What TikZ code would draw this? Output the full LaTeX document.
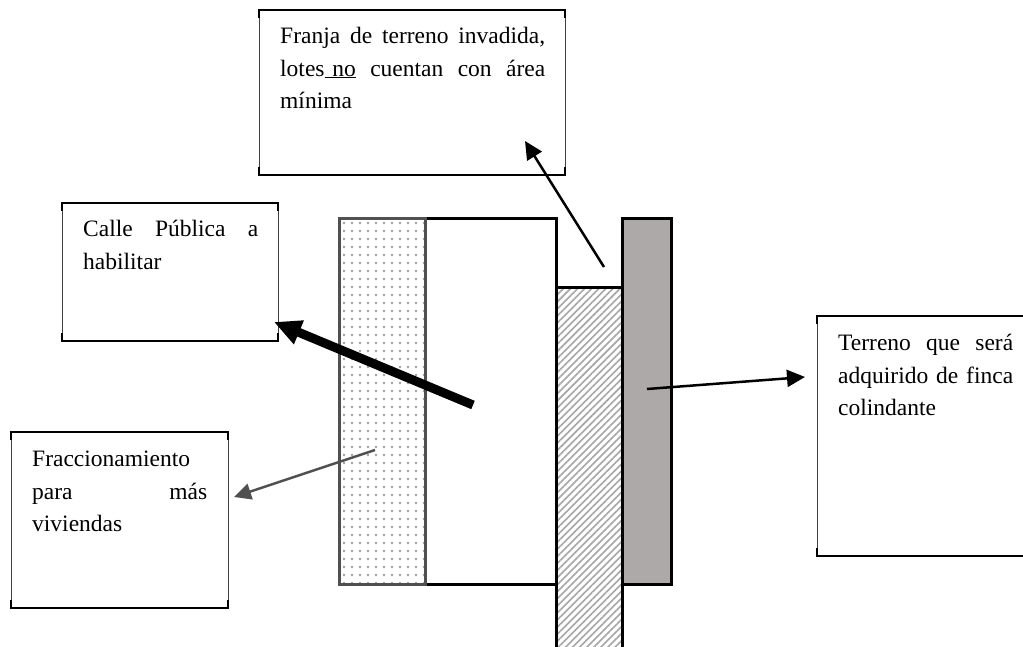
\documentclass[tikz,border=0pt]{standalone}
\usepackage{fontspec}
\setmainfont{Liberation Serif}
\usetikzlibrary{arrows.meta,patterns.meta}
\definecolor{dgray}{HTML}{ADA9A8}
\definecolor{sgray}{HTML}{505050}
\newcommand{\jl}[2]{\makebox[#1pt][s]{#2}}
\newcommand{\boxedge}[1]{%
  \draw[black,line width=1.8pt] ([yshift=-8pt]#1.north west) -- (#1.north west) -- (#1.north east) -- ([yshift=-8pt]#1.north east);
  \draw[black,line width=1.8pt] ([yshift=8pt]#1.south west) -- (#1.south west) -- (#1.south east) -- ([yshift=8pt]#1.south east);}
\tikzset{
  lbox/.style={draw=black!75,line width=1pt,fill=white,rectangle,anchor=north west,inner sep=0pt,outer sep=0pt},
  ltext/.style={anchor=north west,inner sep=0pt,align=left,font=\fontsize{23.5}{32.5}\selectfont,text=black},
  part/.style={draw=black,line width=3pt,rectangle,anchor=north west,inner sep=0pt,outer sep=0pt},
  arrowa/.style={draw=black,line width=2.5pt,-{Triangle[length=18pt,width=17pt]}},
}
\begin{document}
\begin{tikzpicture}[x=1pt,y=-1pt]
\useasboundingbox (0,0) rectangle (1023,647);
\fill[white] (0,0) rectangle (1023,647);
% boxes
\node[lbox,minimum width=306pt,minimum height=165pt] (franja) at (259,10) {};
\node[lbox,minimum width=216pt,minimum height=138pt] (calle) at (62,203) {};
\node[lbox,minimum width=217pt,minimum height=176pt] (fracc) at (11,432) {};
\node[lbox,minimum width=230pt,minimum height=240pt] (terr) at (817,316) {};
\boxedge{franja}\boxedge{calle}\boxedge{fracc}\boxedge{terr}
% box texts
\node[ltext,text width=265pt] (tfranja) at (280,27) {\jl{265}{Franja\hfill de\hfill terreno\hfill invadida,}\\\jl{265}{lotes\underline{\ no}\hfill cuentan\hfill con\hfill área}\\mínima};
\node[ltext,text width=175pt] (tcalle) at (83,220) {\jl{175}{Calle\hfill Pública\hfill a}\\habilitar};
\node[ltext,text width=175pt] (tfracc) at (32,451) {Fraccionamiento\\\jl{175}{para\hfill más}\\viviendas};
\node[ltext,text width=175pt] (tterr) at (838,334) {\jl{175}{Terreno\hfill que\hfill será}\\\jl{175}{adquirido\hfill de\hfill finca}\\colindante};
% parts
\node[part,draw=sgray,minimum width=86pt,minimum height=365pt,
  pattern={Dots[distance=8pt,radius=1.3pt]},pattern color=black!38] (stip) at (339,219) {};
\node[part,minimum width=131pt,minimum height=365pt] (lot) at (425,219) {};
\draw[sgray,line width=3pt] (stip.north west) rectangle (stip.south east);
\node[part,minimum width=66pt,minimum height=380pt,
  pattern={Lines[angle=45,distance=5pt,line width=1.6pt]},pattern color=black!35] (hatch) at (556,287) {};
\node[part,fill=dgray,minimum width=49pt,minimum height=365pt] (grayp) at (622,219) {};
% arrow ends
\coordinate (a1s) at (604,267); \coordinate (a1e) at (525,141);
\coordinate (a2s) at (473,405); \coordinate (a2e) at (274,322);
\coordinate (a3s) at (375,450); \coordinate (a3e) at (234,497);
\coordinate (a4s) at (647,389); \coordinate (a4e) at (805,377);
\draw[arrowa] (a1s) -- (a1e);
\draw[draw=black,line width=9pt,-{Triangle[length=27pt,width=24pt]}] (a2s) -- (a2e);
\draw[draw=sgray,line width=2.5pt,-{Triangle[length=17pt,width=16pt]}] (a3s) -- (a3e);
\draw[arrowa] (a4s) -- (a4e);
\end{tikzpicture}
\end{document}
